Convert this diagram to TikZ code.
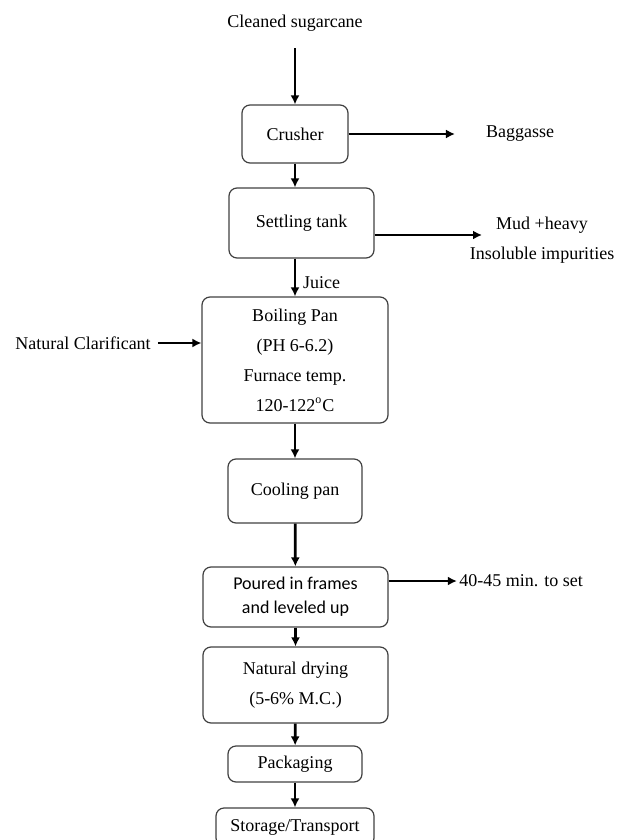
\documentclass[tikz,border=0pt]{standalone}
\usepackage{fontspec}
\setmainfont{Liberation Serif}
\newfontfamily\calfont{Carlito}
\usetikzlibrary{arrows.meta,calc}

\begin{document}
\begin{tikzpicture}[
  x=0.5pt, y=-0.5pt,
  stage/.style={draw=black!75, line width=0.6pt, rounded corners=4pt, align=center, inner sep=1pt, font=\fontsize{9}{15}\selectfont},
  arr/.style={-{Latex[length=4.5pt,width=4.5pt]}, line width=1.4pt},
  note/.style={align=center, font=\fontsize{9}{15}\selectfont}
]
\useasboundingbox (0,0) rectangle (619,840);
\clip (0,0) rectangle (619,840);

\node[note] (cane) at (295,23) {Cleaned sugarcane};
\node[stage, minimum width=53pt, minimum height=29pt] (crusher) at (295,134) {Crusher};
\node[note] (bag) at (520,134) {Baggasse};
\node[stage, minimum width=72.5pt, minimum height=35pt] (settle) at (301.5,223) {Settling tank};
\node[note] (mud) at (542,240) {Mud +heavy\\Insoluble impurities};
\coordinate (mudin) at (482,235);
\node[stage, minimum width=93pt, minimum height=63pt] (boil) at (295,360) {Boiling Pan\\(PH 6-6.2)\\Furnace temp.\\120-122\textsuperscript{o}C};
\node[note] (clar) at (83,343) {Natural Clarificant};
\node[stage, minimum width=67pt, minimum height=32pt] (cool) at (295,491) {Cooling pan};
\node[stage, minimum width=92.5pt, minimum height=30pt, font=\calfont\fontsize{9}{12}\selectfont] (pour) at (295.5,597) {Poured in frames\\and leveled up};
\node[note, inner xsep=1pt] (set) at (521,581) {40-45 min. to set};
\node[stage, minimum width=92.5pt, minimum height=38pt] (dry) at (295.5,685) {Natural drying\\(5-6\% M.C.)};
\node[stage, minimum width=67pt, minimum height=18pt] (pack) at (295,764) {Packaging};
\node[stage, minimum width=79pt, minimum height=19pt] (store) at (295,827) {Storage/Transport};

\draw[arr, shorten <=5pt] (cane) -- (crusher);
\draw[arr, shorten >=12pt] (crusher) -- (bag);
\draw[arr] (crusher) -- (crusher |- settle.north);
\draw[arr] (settle.east |- mudin) -- (mudin);
\draw[arr] (settle.south -| boil.north) -- node[note, right, pos=0.64] {Juice} (boil);
\draw[arr] (clar.east) -- (clar.east -| boil.west);
\draw[arr] (boil) -- (cool);
\draw[arr] (cool) -- (pour);
\draw[arr] (set.west -| pour.east) -- (set.west);
\draw[arr] (pour) -- (dry);
\draw[arr] (dry) -- (pack);
\draw[arr] (pack) -- (store);

\end{tikzpicture}
\end{document}
